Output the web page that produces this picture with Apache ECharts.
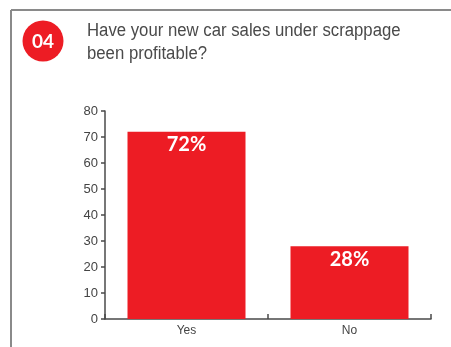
<!DOCTYPE html>
<html>
<head>
<meta charset="utf-8">
<script src="https://cdn.jsdelivr.net/npm/echarts@6/dist/echarts.min.js"></script>
<style>
  html, body { margin: 0; padding: 0; background: #fff; }
  #chart { width: 451px; height: 347px; }
</style>
</head>
<body>
<div id="chart"></div>
<script>
// Survey answers and their shares (%)
const categories = ['Yes', 'No'];
const shares = [72, 28];
const yTicks = { min: 0, max: 80, step: 10 };

const questionNo = '04';
const questionLines = ['Have your new car sales under scrappage', 'been profitable?'];

const chart = echarts.init(document.getElementById('chart'), null, { renderer: 'canvas' });

const RED = '#ED1C24';
const AXIS = '#4a4a4a';
const LABEL_FONT = 'Liberation Sans, sans-serif';

chart.setOption({
  animation: false,
  grid: { left: 105, right: 20, top: 111, bottom: 28 },
  xAxis: {
    type: 'category',
    data: categories,
    axisLine: { show: true, lineStyle: { color: AXIS, width: 1.5 } },
    axisTick: { show: true, inside: true, length: 5, lineStyle: { color: AXIS, width: 1.5 } },
    axisLabel: { color: '#444', fontSize: 12, fontFamily: LABEL_FONT, margin: 6 }
  },
  yAxis: {
    type: 'value',
    min: yTicks.min,
    max: yTicks.max,
    interval: yTicks.step,
    splitLine: { show: false },
    axisLine: { show: true, lineStyle: { color: AXIS, width: 1.5 } },
    axisTick: { show: true, length: 4, lineStyle: { color: AXIS, width: 1.5 } },
    axisLabel: { color: '#444', fontSize: 13, fontFamily: LABEL_FONT, margin: 7 }
  },
  series: [{
    type: 'bar',
    data: shares,
    barWidth: 118,
    itemStyle: { color: RED },
    label: {
      show: true,
      position: 'insideTop',
      distance: 3,
      formatter: p => p.value + '%',
      color: '#fff',
      fontSize: 20,
      fontWeight: 'bold',
      fontFamily: 'Lato, Open Sans, sans-serif'
    }
  }],
  graphic: [
    // panel frame: top and left rules
    { type: 'line', shape: { x1: 11, y1: 10, x2: 451, y2: 10 }, style: { stroke: '#8a8a8a', lineWidth: 2 } },
    { type: 'line', shape: { x1: 11, y1: 10, x2: 11, y2: 347 }, style: { stroke: '#8a8a8a', lineWidth: 2 } },
    // question number badge
    { type: 'circle', shape: { cx: 43, cy: 41, r: 20.5 }, style: { fill: RED } },
    { type: 'text', x: 43, y: 42, style: { text: questionNo, fill: '#fff', fontSize: 19, fontWeight: 'bold', fontFamily: 'Lato, Open Sans, sans-serif', align: 'center', verticalAlign: 'middle' } },
    // question text, set slightly condensed
    { type: 'text', x: 87, y: 31, scaleX: 0.93, style: { text: questionLines[0], fill: '#4a4a4a', fontSize: 18, fontFamily: LABEL_FONT, verticalAlign: 'middle' } },
    { type: 'text', x: 87, y: 54, scaleX: 0.93, style: { text: questionLines[1], fill: '#4a4a4a', fontSize: 18, fontFamily: LABEL_FONT, verticalAlign: 'middle' } }
  ]
});
</script>
</body>
</html>
